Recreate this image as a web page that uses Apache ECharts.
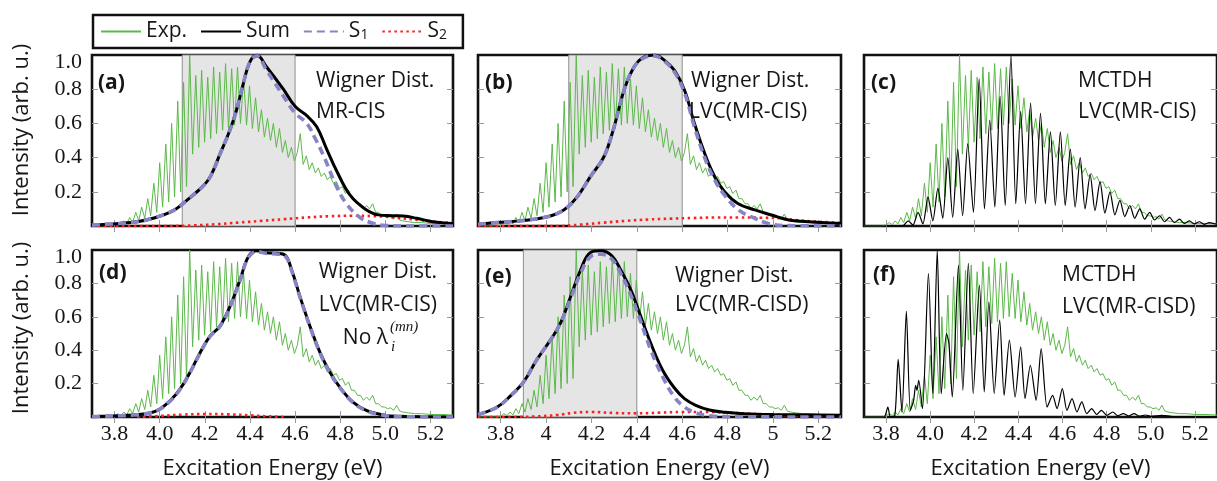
<!DOCTYPE html>
<html><head><meta charset="utf-8">
<script src="https://cdn.jsdelivr.net/npm/echarts@6/dist/echarts.min.js"></script>
<style>html,body{margin:0;padding:0;background:#fff}#c{width:1217px;height:481px}</style>
</head><body><div id="c"></div>
<script>
// ---- tick labels ----
const xTicks = [3.8, 4.0, 4.2, 4.4, 4.6, 4.8, 5.0, 5.2];
const yTicks = [0.2, 0.4, 0.6, 0.8, 1.0];
const xRange = [3.7, 5.3];
const legendNames = ['Exp.', 'Sum', 'S1', 'S2'];

// ---- experimental spectrum [eV, intensity] ----
const expSpectrum = [[3.70,0.0],[3.78,0.0],[3.80,0.006],[3.814,0.02],[3.828,0.008],[3.841,0.03],[3.854,0.012],[3.867,0.05],[3.880,0.02],[3.894,0.08],[3.907,0.03],[3.920,0.11],[3.934,0.045],[3.947,0.16],[3.960,0.06],[3.974,0.25],[3.987,0.08],[4.000,0.37],[4.013,0.11],[4.027,0.48],[4.040,0.14],[4.053,0.60],[4.066,0.17],[4.080,0.73],[4.093,0.20],[4.106,0.84],[4.119,0.23],[4.133,1.00],[4.146,0.42],[4.160,0.88],[4.173,0.46],[4.186,0.91],[4.199,0.49],[4.213,0.87],[4.226,0.51],[4.239,0.93],[4.252,0.54],[4.266,0.90],[4.279,0.56],[4.292,0.95],[4.305,0.57],[4.319,0.92],[4.332,0.59],[4.345,0.93],[4.358,0.60],[4.372,0.86],[4.385,0.59],[4.398,0.82],[4.411,0.57],[4.425,0.75],[4.438,0.55],[4.451,0.68],[4.464,0.52],[4.478,0.63],[4.491,0.50],[4.504,0.60],[4.517,0.46],[4.531,0.57],[4.544,0.43],[4.557,0.50],[4.570,0.40],[4.584,0.46],[4.597,0.38],[4.610,0.43],[4.623,0.54],[4.636,0.36],[4.650,0.41],[4.663,0.33],[4.676,0.37],[4.690,0.31],[4.703,0.34],[4.716,0.29],[4.730,0.31],[4.743,0.27],[4.756,0.29],[4.770,0.25],[4.783,0.26],[4.797,0.22],[4.810,0.23],[4.823,0.19],[4.837,0.21],[4.850,0.16],[4.863,0.16],[4.877,0.13],[4.890,0.13],[4.903,0.10],[4.917,0.12],[4.930,0.10],[4.944,0.13],[4.957,0.08],[4.970,0.08],[4.984,0.06],[4.997,0.06],[5.010,0.05],[5.024,0.055],[5.037,0.04],[5.050,0.07],[5.064,0.035],[5.077,0.03],[5.100,0.025],[5.130,0.02],[5.160,0.02],[5.200,0.015],[5.250,0.015],[5.300,0.012]];

// ---- (a) Wigner Dist. MR-CIS ----
const sumA = [[3.70,0.005],[3.82,0.015],[3.90,0.025],[3.97,0.045],[4.06,0.09],[4.12,0.15],[4.19,0.23],[4.225,0.29],[4.267,0.42],[4.311,0.56],[4.341,0.68],[4.37,0.83],[4.40,0.96],[4.43,1.0],[4.474,0.93],[4.548,0.80],[4.60,0.70],[4.652,0.645],[4.696,0.58],[4.74,0.45],[4.785,0.32],[4.844,0.18],[4.91,0.10],[4.97,0.065],[5.03,0.06],[5.08,0.058],[5.14,0.045],[5.21,0.025],[5.30,0.015]];
const s1A = [[3.70,0.005],[3.82,0.015],[3.90,0.025],[3.97,0.045],[4.06,0.09],[4.12,0.15],[4.19,0.23],[4.225,0.29],[4.267,0.42],[4.311,0.56],[4.341,0.68],[4.37,0.83],[4.40,0.96],[4.43,0.995],[4.474,0.91],[4.548,0.76],[4.60,0.66],[4.652,0.60],[4.69,0.51],[4.73,0.40],[4.784,0.23],[4.828,0.13],[4.888,0.05],[4.947,0.015],[5.0,0.003],[5.1,0.0],[5.3,0.0]];
const s2A = [[3.70,0],[4.05,0],[4.15,0.004],[4.25,0.01],[4.35,0.02],[4.45,0.03],[4.55,0.04],[4.65,0.05],[4.75,0.057],[4.85,0.06],[4.95,0.058],[5.05,0.048],[5.15,0.035],[5.25,0.022],[5.30,0.018]];

// ---- (b) Wigner Dist. LVC(MR-CIS) ----
const sumB = [[3.70,0.01],[3.783,0.02],[3.886,0.03],[4.005,0.054],[4.078,0.094],[4.137,0.17],[4.196,0.29],[4.255,0.405],[4.30,0.58],[4.344,0.795],[4.388,0.93],[4.433,0.99],[4.477,1.0],[4.521,0.97],[4.566,0.91],[4.61,0.795],[4.654,0.60],[4.699,0.425],[4.743,0.29],[4.787,0.20],[4.847,0.13],[4.92,0.094],[4.994,0.064],[5.07,0.035],[5.14,0.026],[5.30,0.015]];
const s1B = [[3.70,0.01],[3.783,0.02],[3.886,0.03],[4.005,0.054],[4.078,0.094],[4.137,0.17],[4.196,0.29],[4.255,0.405],[4.30,0.58],[4.344,0.795],[4.388,0.93],[4.433,0.985],[4.477,0.995],[4.521,0.965],[4.566,0.90],[4.61,0.78],[4.654,0.58],[4.699,0.40],[4.743,0.27],[4.787,0.18],[4.847,0.095],[4.92,0.045],[4.98,0.015],[5.05,0.003],[5.30,0.0]];
const s2B = [[3.70,0],[4.05,0],[4.15,0.008],[4.255,0.02],[4.35,0.03],[4.45,0.038],[4.55,0.043],[4.65,0.047],[4.75,0.05],[4.85,0.05],[4.95,0.048],[5.03,0.045],[5.10,0.035],[5.20,0.025],[5.30,0.018]];

// ---- (c) MCTDH LVC(MR-CIS) ----
const mctdhC = [[3.70,0],[3.86,0],[3.88,0.004],[3.90,0.03],[3.922,0.006],[3.945,0.08],[3.967,0.012],[3.99,0.17],[4.012,0.03],[4.035,0.22],[4.057,0.045],[4.08,0.40],[4.102,0.05],[4.125,0.45],[4.147,0.06],[4.17,0.48],[4.196,0.08],[4.222,0.86],[4.246,0.10],[4.27,0.62],[4.293,0.11],[4.317,0.76],[4.34,0.12],[4.366,1.0],[4.388,0.13],[4.41,0.67],[4.432,0.13],[4.455,0.72],[4.477,0.13],[4.50,0.66],[4.522,0.13],[4.545,0.55],[4.567,0.12],[4.59,0.55],[4.612,0.12],[4.635,0.45],[4.657,0.11],[4.68,0.40],[4.702,0.10],[4.725,0.30],[4.747,0.09],[4.77,0.26],[4.792,0.075],[4.815,0.20],[4.837,0.065],[4.86,0.15],[4.882,0.055],[4.905,0.12],[4.927,0.045],[4.95,0.10],[4.972,0.04],[4.995,0.08],[5.017,0.035],[5.04,0.06],[5.062,0.025],[5.085,0.05],[5.107,0.02],[5.13,0.04],[5.152,0.015],[5.175,0.03],[5.197,0.012],[5.22,0.025],[5.242,0.01],[5.265,0.02],[5.30,0.01]];

// ---- (d) Wigner Dist. LVC(MR-CIS) no lambda ----
const sumD = [[3.70,0.002],[3.735,0.004],[3.883,0.012],[3.957,0.024],[4.001,0.048],[4.046,0.097],[4.09,0.167],[4.134,0.266],[4.179,0.385],[4.223,0.484],[4.267,0.544],[4.312,0.663],[4.356,0.821],[4.393,0.96],[4.43,0.995],[4.474,0.984],[4.519,0.98],[4.555,0.97],[4.585,0.88],[4.622,0.72],[4.666,0.544],[4.711,0.385],[4.755,0.266],[4.799,0.177],[4.858,0.087],[4.918,0.038],[4.991,0.012],[5.05,0.004],[5.30,0.0]];
const s1D = [[3.70,0.002],[3.735,0.004],[3.883,0.012],[3.957,0.024],[4.001,0.047],[4.046,0.095],[4.09,0.165],[4.134,0.264],[4.179,0.383],[4.223,0.482],[4.267,0.542],[4.312,0.66],[4.356,0.818],[4.393,0.955],[4.43,0.99],[4.474,0.98],[4.519,0.976],[4.555,0.965],[4.585,0.875],[4.622,0.716],[4.666,0.54],[4.711,0.382],[4.755,0.263],[4.799,0.175],[4.858,0.085],[4.918,0.036],[4.991,0.011],[5.05,0.003],[5.30,0.0]];
const s2D = [[3.90,0],[4.0,0.006],[4.1,0.014],[4.2,0.018],[4.3,0.016],[4.4,0.01],[4.48,0.004],[4.55,0.0]];

// ---- (e) Wigner Dist. LVC(MR-CISD) ----
const sumE = [[3.70,0.015],[3.783,0.058],[3.842,0.125],[3.901,0.21],[3.96,0.345],[4.019,0.46],[4.063,0.56],[4.108,0.72],[4.152,0.88],[4.196,0.985],[4.241,0.995],[4.29,0.965],[4.329,0.88],[4.374,0.76],[4.41,0.63],[4.462,0.44],[4.514,0.28],[4.565,0.175],[4.61,0.11],[4.66,0.07],[4.72,0.042],[4.79,0.028],[4.87,0.02],[5.0,0.015],[5.30,0.01]];
const s1E = [[3.70,0.015],[3.783,0.058],[3.842,0.125],[3.901,0.21],[3.96,0.345],[4.019,0.46],[4.063,0.56],[4.108,0.71],[4.152,0.86],[4.196,0.96],[4.241,0.975],[4.29,0.945],[4.329,0.86],[4.374,0.73],[4.41,0.60],[4.462,0.40],[4.514,0.24],[4.565,0.12],[4.61,0.06],[4.66,0.025],[4.72,0.008],[4.80,0.002],[5.30,0.0]];
const s2E = [[3.70,0],[3.85,0],[3.95,0.003],[4.05,0.012],[4.12,0.025],[4.20,0.03],[4.30,0.024],[4.40,0.022],[4.50,0.026],[4.60,0.03],[4.70,0.03],[4.80,0.026],[4.90,0.02],[5.00,0.014],[5.10,0.01],[5.30,0.005]];

// ---- (f) MCTDH LVC(MR-CISD) ----
const mctdhF = [[3.70,0],[3.79,0.0],[3.808,0.06],[3.82,0.0],[3.84,0.01],[3.855,0.345],[3.872,0.03],[3.892,0.633],[3.91,0.04],[3.925,0.1],[3.934,0.19],[3.94,0.16],[3.948,0.22],[3.965,0.05],[3.992,0.86],[4.012,0.14],[4.032,1.0],[4.05,0.14],[4.074,0.5],[4.085,0.44],[4.10,0.12],[4.128,0.91],[4.148,0.16],[4.173,0.92],[4.195,0.14],[4.223,0.79],[4.245,0.15],[4.266,0.69],[4.29,0.14],[4.315,0.58],[4.335,0.13],[4.359,0.46],[4.385,0.12],[4.41,0.42],[4.43,0.11],[4.454,0.31],[4.48,0.1],[4.503,0.41],[4.53,0.06],[4.555,0.13],[4.575,0.05],[4.599,0.17],[4.62,0.04],[4.643,0.11],[4.665,0.03],[4.687,0.09],[4.71,0.02],[4.732,0.05],[4.755,0.015],[4.776,0.04],[4.80,0.01],[4.828,0.03],[4.85,0.008],[4.875,0.02],[4.90,0.006],[4.924,0.02],[4.95,0.005],[4.975,0.012],[5.0,0.004],[5.05,0.01],[5.10,0.003],[5.30,0.0]];

// ---- shaded windows ----
const shadeA = [4.1, 4.6];
const shadeB = [4.1, 4.6];
const shadeE = [3.9, 4.4];

// ---------------- layout / styles ----------------
const C = {
  exp: '#5cb84a', sum: '#000', s1: '#8484c6', s2: '#ff1f1f',
  shade: '#e5e5e5', tick: '#9a9a9a', text: '#161616'
};
const SANS = 'Open Sans';
const SERIF = 'Liberation Serif';

const panels = [
  {box:[92,55,361,171],  kind:'w', sum:sumA, s1:s1A, s2:s2A, shade:shadeA, yLab:true,  xLab:null},
  {box:[478,55,363,171], kind:'w', sum:sumB, s1:s1B, s2:s2B, shade:shadeB, yLab:false, xLab:null},
  {box:[864,55,362,171], kind:'m', m:mctdhC, yLab:false, xLab:null},
  {box:[92,250,361,168], kind:'w', sum:sumD, s1:s1D, s2:s2D, shade:null, yLab:true,  xLab:'fixed'},
  {box:[478,250,363,168],kind:'w', sum:sumE, s1:s1E, s2:s2E, shade:shadeE, yLab:false, xLab:'short'},
  {box:[864,250,362,168],kind:'m', m:mctdhF, yLab:false, xLab:'fixed'}
];

const grid = [], xAxis = [], yAxis = [], series = [];
panels.forEach((p, i) => {
  grid.push({left:p.box[0], top:p.box[1], width:p.box[2], height:p.box[3], show:true,
    borderColor:'#111', borderWidth:2.6, backgroundColor:'transparent', containLabel:false});
  const tick = {show:true, inside:true, length:6, lineStyle:{color:C.tick, width:1}, customValues:xTicks};
  const fmt = p.xLab === 'short' ? (v => String(+(+v).toFixed(1))) : (v => (+v).toFixed(1));
  xAxis.push({type:'value', gridIndex:i, min:xRange[0], max:xRange[1], position:'bottom',
    axisLine:{show:false}, splitLine:{show:false}, axisTick:tick,
    axisLabel:{show:!!p.xLab, customValues:xTicks, formatter:fmt, margin:6,
      fontFamily:SERIF, fontSize:22, color:C.text},
    name: p.xLab ? 'Excitation Energy (eV)' : '', nameLocation:'middle', nameGap:41,
    nameTextStyle:{fontFamily:SANS, fontSize:22, color:C.text}});
  xAxis.push({type:'value', gridIndex:i, min:xRange[0], max:xRange[1], position:'top',
    axisLine:{show:false}, splitLine:{show:false}, axisTick:tick, axisLabel:{show:false}});
  const ytick = {show:true, inside:true, length:6, lineStyle:{color:C.tick, width:1}, customValues:[0.2,0.4,0.6,0.8]};
  yAxis.push({type:'value', gridIndex:i, min:0, max:1, position:'left',
    axisLine:{show:false}, splitLine:{show:false}, axisTick:ytick,
    axisLabel:{show:p.yLab, customValues:yTicks, margin:10, fontFamily:SERIF, fontSize:22, color:C.text,
      formatter: v => (v > 0.999 ? '{t|1.0}' : (+v).toFixed(1)),
      rich:{t:{fontFamily:SERIF, fontSize:22, color:C.text, padding:[14,0,0,0]}}}});
  yAxis.push({type:'value', gridIndex:i, min:0, max:1, position:'right',
    axisLine:{show:false}, splitLine:{show:false}, axisTick:ytick, axisLabel:{show:false}});
  const xi = 2*i, yi = 2*i;
  if (p.shade) {
    series.push({type:'line', name:'shade', xAxisIndex:xi, yAxisIndex:yi, data:[[p.shade[0],0]],
      symbol:'none', lineStyle:{opacity:0}, z:1, silent:true,
      markArea:{silent:true, itemStyle:{color:C.shade, borderColor:'#8f8f8f', borderWidth:1},
        data:[[{xAxis:p.shade[0]},{xAxis:p.shade[1]}]]}});
  }
  series.push({type:'line', name:'Exp.', xAxisIndex:xi, yAxisIndex:yi, data:expSpectrum,
    symbol:'none', lineStyle:{color:C.exp, width:1}, itemStyle:{color:C.exp}, z:3});
  if (p.kind === 'w') {
    series.push({type:'line', name:'S2', xAxisIndex:xi, yAxisIndex:yi, data:p.s2, smooth:0.4,
      symbol:'none', lineStyle:{color:C.s2, width:2.6, type:[2.5,3.5]}, itemStyle:{color:C.s2}, z:4});
    series.push({type:'line', name:'Sum', xAxisIndex:xi, yAxisIndex:yi, data:p.sum, smooth:0.4,
      symbol:'none', lineStyle:{color:C.sum, width:3}, itemStyle:{color:C.sum}, z:5});
    series.push({type:'line', name:'S1', xAxisIndex:xi, yAxisIndex:yi, data:p.s1, smooth:0.4,
      symbol:'none', lineStyle:{color:C.s1, width:3.6, type:[8,5]}, itemStyle:{color:C.s1}, z:6});
  } else {
    series.push({type:'line', name:'MCTDH', xAxisIndex:xi, yAxisIndex:yi, data:p.m, smooth:0.25,
      symbol:'none', lineStyle:{color:'#000', width:1.2}, itemStyle:{color:'#000'}, z:5});
  }
});

function txt(x, y, text, opt) {
  opt = opt || {};
  return {type:'text', x:x, y:y, z:100, rotation: opt.rot || 0,
    style:{text:text, font: opt.font || ('21px "' + SANS + '"'), fill:C.text,
      align: opt.align || 'left', verticalAlign:'middle',
      textAlign: opt.align || 'left', textVerticalAlign:'middle'}};
}
const B = 'bold 21px "' + SANS + '"';
const graphic = [
  txt(98,83,'(a)',{font:B}), txt(485,83,'(b)',{font:B}), txt(871,83,'(c)',{font:B}),
  txt(99,273,'(d)',{font:B}), txt(485,277,'(e)',{font:B}), txt(873,275,'(f)',{font:B}),
  txt(316,81,'Wigner Dist.'), txt(316,112,'MR-CIS'),
  txt(691,81,'Wigner Dist.'), txt(689,112,'LVC(MR-CIS)'),
  txt(1078,81,'MCTDH'), txt(1078,112,'LVC(MR-CIS)'),
  txt(437,272,'Wigner Dist.',{align:'right'}), txt(437,305,'LVC(MR-CIS)',{align:'right'}),
  txt(388,338,'No λ',{align:'right'}),
  txt(390,327,'(mn)',{font:'italic 15px "' + SERIF + '"'}),
  txt(391,347,'i',{font:'italic 15px "' + SERIF + '"'}),
  txt(675,276,'Wigner Dist.'), txt(675,305,'LVC(MR-CISD)'),
  txt(1062,275,'MCTDH'), txt(1062,307,'LVC(MR-CISD)'),
  txt(22,130,'Intensity (arb. u.)',{align:'center', rot:Math.PI/2, font:'22px "' + SANS + '"'}),
  txt(22,328,'Intensity (arb. u.)',{align:'center', rot:Math.PI/2, font:'22px "' + SANS + '"'})
];

const chart = echarts.init(document.getElementById('c'), null, {renderer:'canvas'});
chart.setOption({
  animation:false,
  backgroundColor:'#fff',
  grid, xAxis, yAxis, series, graphic,
  legend:{show:true, left:93, top:15, orient:'horizontal', data:legendNames,
    itemWidth:40, itemHeight:14, itemGap:13, padding:[6,16,6,7],
    backgroundColor:'#fff', borderColor:'#111', borderWidth:2.5, borderRadius:0,
    selectedMode:false, z:50,
    itemStyle:{opacity:0, borderWidth:0},
    formatter: n => (n === 'S1' ? 'S{sub|1}' : n === 'S2' ? 'S{sub|2}' : n),
    textStyle:{fontFamily:SANS, fontSize:21, color:C.text,
      rich:{sub:{fontFamily:SANS, fontSize:14, color:C.text, verticalAlign:'bottom', lineHeight:14}}}}
});
</script>
</body></html>
